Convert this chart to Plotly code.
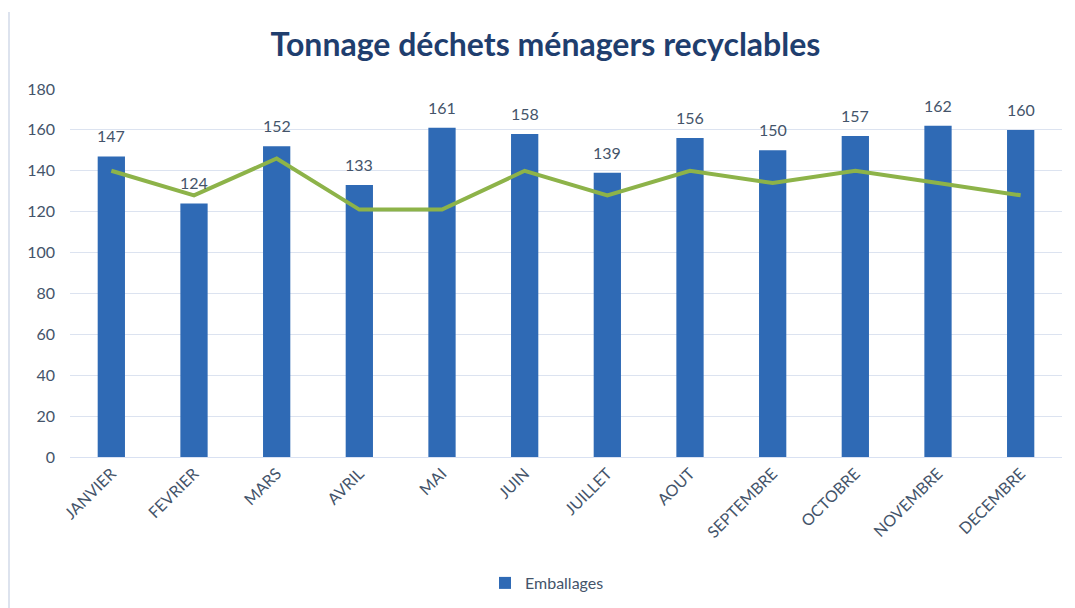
import plotly.graph_objects as go

mois = ["JANVIER", "FEVRIER", "MARS", "AVRIL", "MAI", "JUIN", "JUILLET",
        "AOUT", "SEPTEMBRE", "OCTOBRE", "NOVEMBRE", "DECEMBRE"]
emballages = [147, 124, 152, 133, 161, 158, 139, 156, 150, 157, 162, 160]
tendance = [140, 128, 146, 121, 121, 140, 128, 140, 134, 140, 134, 128]
y_ticks = [0, 20, 40, 60, 80, 100, 120, 140, 160, 180]

font_family = "Lato, 'Open Sans', sans-serif"
label_color = "#44546A"

fig = go.Figure()
fig.add_trace(go.Bar(
    x=mois, y=emballages, name="Emballages",
    marker=dict(color="#2F6AB5", line=dict(width=0)),
    width=0.33,
))
fig.add_trace(go.Scatter(
    x=mois, y=tendance, mode="lines", showlegend=False,
    line=dict(color="#8DB349", width=4),
))

annotations = [
    dict(x=m, y=v, xref="x", yref="y", text=str(v), showarrow=False,
         yanchor="bottom", yshift=9,
         font=dict(size=16, color=label_color, family=font_family))
    for m, v in zip(mois, emballages)
]

fig.update_layout(
    width=1075, height=608,
    margin=dict(l=62, r=21, t=81, b=159),
    paper_bgcolor="white", plot_bgcolor="white",
    title=dict(text="<b>Tonnage déchets ménagers recyclables</b>",
               x=0.5, xanchor="center", y=1 - 37 / 608, yanchor="middle",
               font=dict(size=32, color="#1F3E6E", family=font_family)),
    font=dict(family=font_family, color=label_color),
    xaxis=dict(tickangle=-45, tickfont=dict(size=16, color=label_color),
               showgrid=False, showline=True, linecolor="#D9E1F2", linewidth=1,
               ticks="", automargin=False),
    yaxis=dict(range=[0, 180], tickvals=y_ticks, showgrid=True,
               gridcolor="#DCE3F0", gridwidth=1, zeroline=False,
               tickfont=dict(size=16, color=label_color), ticks="",
               ticklabelstandoff=14, automargin=False),
    legend=dict(orientation="h", x=0.5 - 19 / 992, xanchor="center",
                y=-(575 - 449) / 368, yanchor="middle",
                font=dict(size=16, color=label_color), itemwidth=30),
    bargap=0.67,
    annotations=annotations,
    shapes=[dict(type="line", xref="paper", yref="paper",
                 x0=-61 / 992, x1=-61 / 992, y0=-0.432, y1=1.209,
                 line=dict(color="#DDE3EE", width=2))],
)

fig.write_html("out.html")
